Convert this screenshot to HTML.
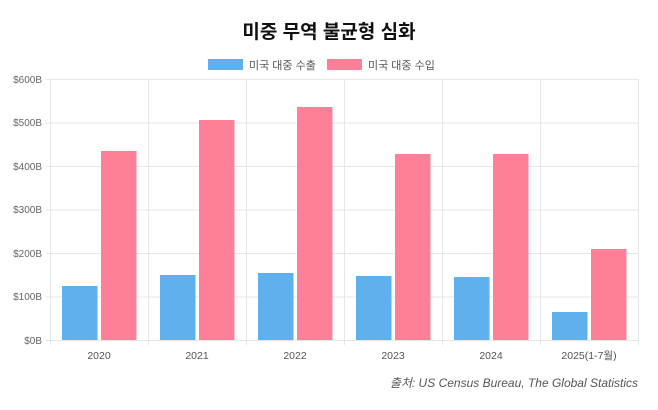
<!DOCTYPE html>
<html><head><meta charset="utf-8"><style>
body{margin:0;background:#fff;width:658px;height:405px;overflow:hidden}
text{font-family:"Liberation Sans","Noto Sans CJK KR",sans-serif}
</style></head><body>
<svg width="658" height="405" xmlns="http://www.w3.org/2000/svg">
<text x="329" y="38" text-anchor="middle" font-size="19" font-weight="bold" fill="#111">미중 무역 불균형 심화</text>
<rect x="208" y="59" width="35" height="11" fill="#5eb1ed"/>
<text x="249" y="69" font-size="11" fill="#555">미국 대중 수출</text>
<rect x="327" y="59" width="35" height="11" fill="#fd7f98"/>
<text x="368" y="69" font-size="11" fill="#555">미국 대중 수입</text>
<g stroke="#e6e6e6" stroke-width="1">
<line x1="46" y1="79.5" x2="638" y2="79.5"/>
<line x1="46" y1="123" x2="638" y2="123"/>
<line x1="46" y1="166.5" x2="638" y2="166.5"/>
<line x1="46" y1="210" x2="638" y2="210"/>
<line x1="46" y1="253.5" x2="638" y2="253.5"/>
<line x1="46" y1="297" x2="638" y2="297"/>
<line x1="46" y1="340.5" x2="638" y2="340.5"/>
<line x1="50.5" y1="79" x2="50.5" y2="345"/>
<line x1="148.5" y1="79" x2="148.5" y2="345"/>
<line x1="246.5" y1="79" x2="246.5" y2="345"/>
<line x1="344.5" y1="79" x2="344.5" y2="345"/>
<line x1="442.5" y1="79" x2="442.5" y2="345"/>
<line x1="540.5" y1="79" x2="540.5" y2="345"/>
<line x1="638.5" y1="79" x2="638.5" y2="345"/>
</g>
<g font-size="10" fill="#666" text-anchor="end">
<text x="42" y="83">$600B</text><text x="42" y="126">$500B</text><text x="42" y="170">$400B</text>
<text x="42" y="213">$300B</text><text x="42" y="257">$200B</text><text x="42" y="300">$100B</text><text x="42" y="344">$0B</text>
</g>
<g fill="#5eb1ed">
<rect x="62" y="286" width="35.5" height="54"/>
<rect x="160" y="275" width="35.5" height="65"/>
<rect x="258" y="273" width="35.5" height="67"/>
<rect x="356" y="276" width="35.5" height="64"/>
<rect x="454" y="277" width="35.5" height="63"/>
<rect x="552" y="312" width="35.5" height="28"/>
</g>
<g fill="#fd7f98">
<rect x="101" y="151" width="35.5" height="189"/>
<rect x="199" y="120" width="35.5" height="220"/>
<rect x="297" y="107" width="35.5" height="233"/>
<rect x="395" y="154" width="35.5" height="186"/>
<rect x="493" y="154" width="35.5" height="186"/>
<rect x="591" y="249" width="35.5" height="91"/>
</g>
<g font-size="10.5" fill="#555" text-anchor="middle">
<text x="99" y="359">2020</text><text x="197" y="359">2021</text><text x="295" y="359">2022</text>
<text x="393" y="359">2023</text><text x="491" y="359">2024</text><text x="589" y="359">2025(1-7월)</text>
</g>
<text x="638" y="387" text-anchor="end" font-size="12" font-style="italic" fill="#555">출처: US Census Bureau, The Global Statistics</text>
</svg>
</body></html>
